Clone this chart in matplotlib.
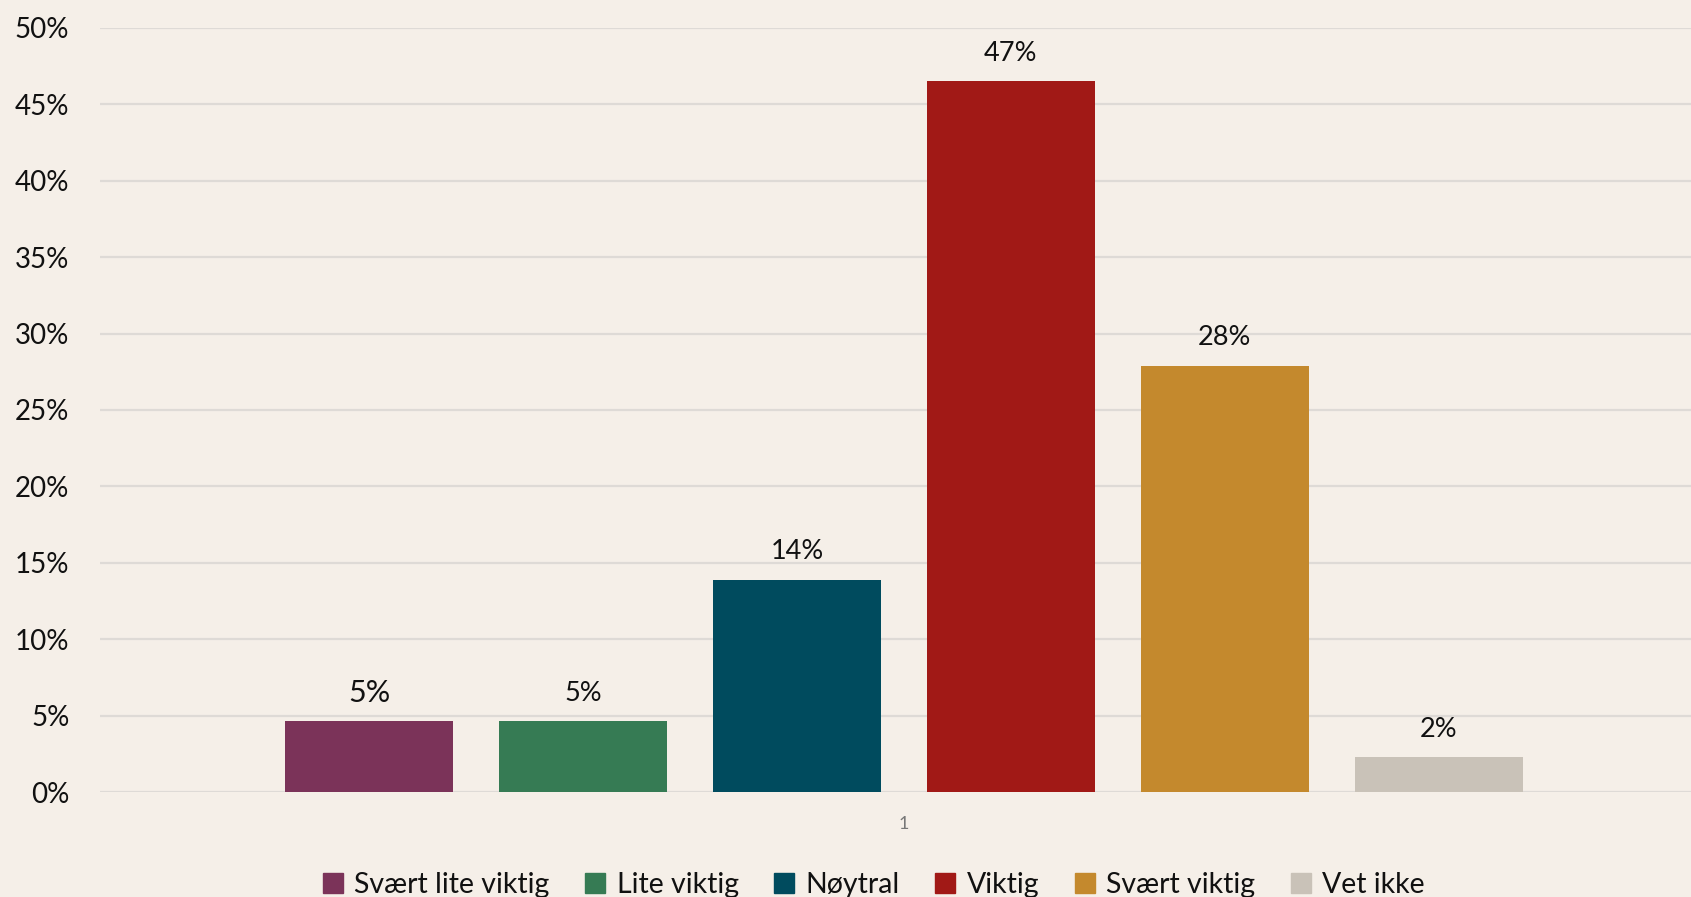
import matplotlib
matplotlib.use("Agg")
import matplotlib.pyplot as plt
import matplotlib.ticker as mticker
import numpy as np

categories = ["Svært lite viktig", "Lite viktig", "Nøytral", "Viktig", "Svært viktig", "Vet ikke"]
values = [4.65, 4.65, 13.9, 46.5, 27.9, 2.3]
labels = ["5%", "5%", "14%", "47%", "28%", "2%"]
colors = ["#7b3359", "#367b54", "#004b5e", "#a11916", "#c4892d", "#c9c2b8"]
yticks = [0, 5, 10, 15, 20, 25, 30, 35, 40, 45, 50]
group_label = "1"

BG = "#f5efe8"
plt.rcParams["font.family"] = ["Lato", "DejaVu Sans"]

W, H = 1691, 897
fig = plt.figure(figsize=(W / 100, H / 100), dpi=100, facecolor=BG)
ax = fig.add_axes([100 / W, 1 - 792 / H, (W - 100) / W, (792 - 28) / H], facecolor=BG)

x = np.arange(len(values))
bars = ax.bar(x, values, width=0.785, color=colors, zorder=3, label=categories)

for i, (b, lab) in enumerate(zip(bars, labels)):
    ax.annotate(lab, (b.get_x() + b.get_width() / 2, b.get_height()),
                xytext=(0, 20), textcoords="offset points", ha="center", va="center",
                fontsize=22 if i == 0 else 19.5, color="#111111")

ax.set_xlim(-1.257, 6.178)
ax.set_ylim(0, 50)
ax.set_yticks(yticks)
ax.yaxis.set_major_formatter(mticker.FuncFormatter(lambda v, p: f"{v:.0f}%"))
ax.tick_params(axis="y", length=0, pad=22, labelsize=20, labelcolor="#111111")
ax.set_xticks([x.mean()])
ax.set_xticklabels([group_label])
ax.tick_params(axis="x", length=0, pad=17, labelsize=13, labelcolor="#777777")
ax.grid(axis="y", color="#dedad6", linewidth=1.6, zorder=0)
for s in ax.spines.values():
    s.set_visible(False)

handles = [plt.Rectangle((0, 0), 1, 1, color=c) for c in colors]
fig.legend(handles, categories, loc="center", bbox_to_anchor=(874 / W, 1 - 885 / H),
           ncol=6, frameon=False, fontsize=20.5, handlelength=0.7, handleheight=0.7,
           handletextpad=0.4, columnspacing=1.25, labelcolor="#111111")

fig.savefig("out.png", dpi=100, facecolor=BG)
